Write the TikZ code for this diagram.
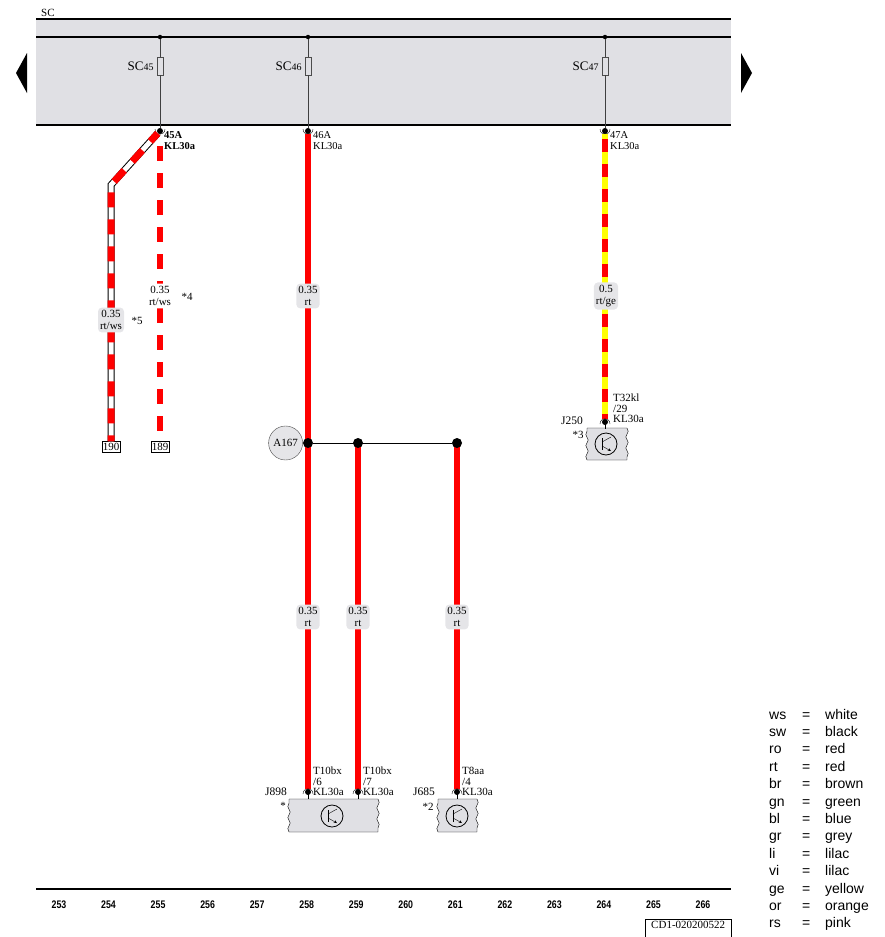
\documentclass[tikz,border=0pt]{standalone}
\usepackage{fontspec}
\setmainfont{Liberation Serif}
\newfontfamily\legendfont{Liberation Sans}
\newfontfamily\gridfont[FakeStretch=0.8]{Liberation Sans}
\usetikzlibrary{positioning,decorations.pathmorphing}
\definecolor{panelgray}{RGB}{224,224,228}
\definecolor{tagfill}{RGB}{229,229,232}
\definecolor{wirered}{RGB}{255,0,0}
\definecolor{wireyellow}{RGB}{255,255,0}

\begin{document}
\begin{tikzpicture}[x=1pt, y=-1pt,
    every node/.style={font=\fontsize{11}{11.5}\selectfont},
    fuse/.style={draw=black!70, fill=panelgray, minimum width=6pt, minimum height=18pt, inner sep=0pt},
    pindot/.style={circle, fill=black, minimum size=6pt, inner sep=0pt},
    joint/.style={circle, fill=black, minimum size=10pt, inner sep=0pt},
    wire/.style={line width=5.5pt, wirered},
    rtws/.style={line width=5.5pt, wirered, dash pattern=on 15pt off 12pt},
    gauge/.style={fill=tagfill, rounded corners=4pt, inner xsep=2pt, inner ysep=3pt, align=center},
    pinlbl/.style={anchor=south west, inner sep=0pt, align=left, font=\fontsize{11}{10.5}\selectfont},
    ecu/.style={circle, draw, thick, minimum size=22pt, inner sep=0pt},
    term/.style={draw, fill=white, inner sep=1pt, minimum height=11pt},
    tear/.style={decoration={snake, amplitude=1.2pt, segment length=11pt}},
    legend/.style={anchor=base west, inner sep=0pt, font=\legendfont\fontsize{14}{14}\selectfont},
  ]
      \useasboundingbox (0,0) rectangle (884,937);

      \fill[panelgray] (36,19) rectangle (731,125);
      \draw[line width=1.2pt] (36,19) -- (731,19) (36,37) -- (731,37) (36,125) -- (731,125);
      \node[anchor=west, inner sep=0pt] (sc) at (41,13) {SC};
      \fill (27,53) -- (16,73) -- (27,93) -- cycle;
      \fill (741,53) -- (752,73) -- (741,93) -- cycle;

      \foreach \x/\n in {160/45, 308/46, 605/47} {
        \node[fuse] (f\n) at (\x,66) {};
        \node[left=3pt of f\n, inner sep=0pt, font=\fontsize{13}{13}\selectfont] {SC\fontsize{10}{10}\selectfont\n};
        \node[circle, fill, inner sep=0pt, minimum size=4.5pt] (d\n) at (\x,37) {};
        \node[pindot] (t\n) at (\x,131) {};
        \draw[black!75] (d\n) -- (f\n) -- (t\n);
        \draw ([shift={(-5,-2)}]t\n.center) .. controls ([shift={(-5,5)}]t\n.center) and ([shift={(5,5)}]t\n.center) .. ([shift={(5,-2)}]t\n.center);
      }
      \node[pinlbl, anchor=north west, font=\fontsize{10.5}{11}\selectfont\bfseries] at (164,131) {45A\\KL30a};
      \node[pinlbl, anchor=north west, font=\fontsize{10.5}{11}\selectfont] at (313,131) {46A\\KL30a};
      \node[pinlbl, anchor=north west, font=\fontsize{10.5}{11}\selectfont] at (610,131) {47A\\KL30a};

      \node[term] (c190) at (111,447) {190};
      \node[term] (c189) at (160,447) {189};
      \coordinate (bend) at (111,185);
      \coordinate (k1) at (308,443);
      \coordinate (k2) at (358,443);
      \coordinate (k3) at (457,443);
      \node[pindot] (b250) at (605,422) {};
      \node[pindot] (b898a) at (308,792) {};
      \node[pindot] (b898b) at (358,792) {};
      \node[pindot] (b685) at (457,792) {};

      \draw[line width=7pt] (t45.south west) -- (bend) -- (c190.north);
      \draw[line width=5pt, white] (t45.south west) -- (bend) -- (c190.north);
      \draw[rtws, line width=7pt, dash phase=4pt] (t45.south west) -- (bend) -- (c190.north);
      \draw[rtws, dash phase=15pt] (t45.south) -- (c189.north);
      \draw[wire] (t46.south) -- (b898a.north);
      \draw[wire] (k2) -- (b898b.north);
      \draw[wire] (k3) -- (b685.north);
      \draw[line width=6pt, wireyellow] (t47.south) -- (b250.north);
      \draw[line width=6pt, wirered, dash pattern=on 13pt off 12pt, dash phase=20pt] (t47.south) -- (b250.north);

      \node[joint] (n1) at (k1) {};
      \node[joint] (n2) at (k2) {};
      \node[joint] (n3) at (k3) {};
      \draw (n1) -- (n3);
      \node[circle, draw=black!70, fill=tagfill, minimum size=34pt, inner sep=0pt, left=0pt of n1] (a167) {A167};

      \node[gauge] at (111,320) {0.35\\rt/ws};
      \node[gauge, fill=white] at (160,296) {0.35\\rt/ws};
      \node[gauge] at (308,296) {0.35\\rt};
      \node[gauge] at (606,296) {0.5\\rt/ge};
      \foreach \x in {308,358,457}
        \node[gauge] at (\x,617) {0.35\\rt};
      \node at (137,321) {*5};
      \node at (187,297) {*4};

      \foreach \a/\b/\c/\d in {587/428/627/460, 289/799/378/832, 438/799/477/832}
        \draw[fill=panelgray] (\a,\b) -- (\c,\b) decorate[tear] {-- (\c,\d)} -- (\a,\d) decorate[tear] {-- (\a,\b)};
      \node[ecu] (s250) at (606,444) {};
      \node[ecu] (s898) at (332,816) {};
      \node[ecu] (s685) at (457,816) {};
      \foreach \s in {s250,s898,s685} {
        \draw ([shift={(-4,-6)}]\s.center) -- ([shift={(-4,6)}]\s.center);
        \draw ([shift={(-4,-2)}]\s.center) -- ([shift={(5,-7)}]\s.center);
        \draw[-stealth] ([shift={(-4,2)}]\s.center) -- ([shift={(5,7)}]\s.center);
      }
      \foreach \p in {b250,b898a,b898b,b685} {
        \draw ([shift={(-5,2)}]\p.center) .. controls ([shift={(-5,-5)}]\p.center) and ([shift={(5,-5)}]\p.center) .. ([shift={(5,2)}]\p.center);
        \draw[thick] (\p.center) -- ++(0,7);
      }
      \node[pinlbl] at (613,423) {T32kl\\/29\\KL30a};
      \node[pinlbl] at (313,796) {T10bx\\/6\\KL30a};
      \node[pinlbl] at (363,796) {T10bx\\/7\\KL30a};
      \node[pinlbl] at (462,796) {T8aa\\/4\\KL30a};
      \node[font=\fontsize{11.5}{12}\selectfont] at (572,421) {J250};
      \node at (578,435) {*3};
      \node[font=\fontsize{11.5}{12}\selectfont] at (276,792) {J898};
      \node at (283,806) {*};
      \node[font=\fontsize{11.5}{12}\selectfont] at (424,792) {J685};
      \node at (428,807) {*2};

      \draw[line width=1.2pt] (36,889) -- (731,889);
      \foreach \n [count=\i from 0] in {253,...,266}
        \node[font=\gridfont\bfseries\fontsize{11}{11}\selectfont] at ({59+49.54*\i},905) {\n};
      \node[draw, anchor=north west, minimum width=86pt, text height=7pt, text depth=15pt, inner sep=2pt] (cd) at (645,919) {CD1-020200522};

      \foreach \ab/\nm [count=\i from 0] in {ws/white, sw/black, ro/red, rt/red, br/brown, gn/green, bl/blue, gr/grey, li/lilac, vi/lilac, ge/yellow, or/orange, rs/pink} {
        \node[legend] (ab\i) at (769,{719+17.4*\i}) {\ab};
        \node[legend] at (802,{719+17.4*\i}) {=};
        \node[legend] (nm\i) at (825,{719+17.4*\i}) {\nm};
      }
    \end{tikzpicture}
\end{document}
